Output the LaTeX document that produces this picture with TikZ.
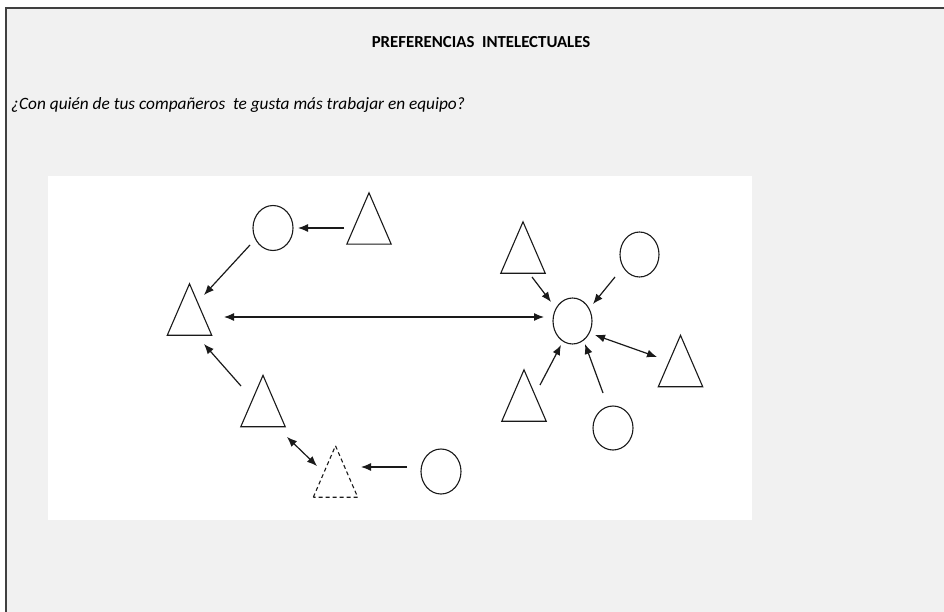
\documentclass[tikz,border=0pt]{standalone}
\usepackage{fontspec}
\setmainfont{Carlito}
\usetikzlibrary{arrows.meta,shapes.geometric,calc}
\definecolor{pagegray}{HTML}{F1F1F1}
\definecolor{framegray}{HTML}{404040}
\definecolor{inkgray}{HTML}{1A1A1A}
\tikzset{
  circ/.style={ellipse,draw=inkgray,line width=1.1pt,inner sep=0pt,minimum width=40pt,minimum height=45pt},
  tribox/.style={inner sep=0pt,minimum width=44pt,minimum height=51pt},
  triline/.style={draw=inkgray,line width=1.1pt,line join=miter},
  arr/.style={draw=inkgray,line width=1.2pt,-{Latex[length=10pt,width=8pt]}},
  darr/.style={draw=inkgray,line width=1.2pt,{Latex[length=10pt,width=8pt]}-{Latex[length=10pt,width=8pt]}},
}
\begin{document}
\begin{tikzpicture}[x=1pt,y=-1pt]
\useasboundingbox (0,0) rectangle (944,612);
\fill[white] (0,0) rectangle (944,612);
\fill[pagegray] (6,8) rectangle (944,612);
\draw[framegray,line width=1.5pt] (944,8) -- (6,8) -- (6,612);
\fill[white] (48,176) rectangle (752,520);
\node[anchor=base,font=\fontsize{16.8}{18}\selectfont\bfseries,inner sep=0pt] (title) at (481,48) {PREFERENCIAS~ INTELECTUALES};
\node[anchor=base west,font=\fontsize{17.3}{19}\selectfont\itshape,inner sep=0pt] (question) at (11,110) {¿Con quién de tus compañeros~ te gusta más trabajar en equipo?};
% circles
\node[circ] (c1) at (273,228) {};
\node[circ] (c2) at (441,471.5) {};
\node[circ,minimum height=46pt,minimum width=39pt] (c0) at (572.5,321) {};
\node[circ,minimum width=39pt] (c3) at (639.5,254.5) {};
\node[circ,minimum height=44pt] (c4) at (613,428) {};
% triangles
\node[tribox] (t1) at (369,218.5) {};
\node[tribox] (t2) at (189.5,309.5) {};
\node[tribox] (t3) at (263,401) {};
\node[tribox] (t4) at (335.5,471.5) {};
\node[tribox] (t5) at (523,247.5) {};
\node[tribox] (t6) at (680.5,361) {};
\node[tribox] (t7) at (524,395.5) {};
\foreach \t in {t1,t2,t3,t5,t6,t7}
  \draw[triline] (\t.south west) -- (\t.north) -- (\t.south east) -- cycle;
\draw[triline,dash pattern=on 4pt off 3pt] (t4.south west) -- (t4.north) -- (t4.south east) -- cycle;
% connectors
\draw[arr] ($(t1)+(-25,9.5)$) -- ($(c1)+(25,0)$);
\draw[arr] ($(c1)+(-23,17)$) -- ($(t2)+(14.5,-14.5)$);
\draw[darr] ($(t2)+(34.5,7.5)$) -- ($(c0)+(-28.5,-4)$);
\draw[arr] ($(t3)+(-22,-15)$) -- ($(t2)+(14.5,34.5)$);
\draw[darr] ($(t3)+(24,36)$) -- ($(t4)+(-18.5,-5.5)$);
\draw[arr] ($(c2)+(-34,-4.5)$) -- ($(t4)+(25.5,-4.5)$);
\draw[arr] ($(t5)+(9,29.5)$) -- ($(c0)+(-21.5,-19)$);
\draw[arr] ($(c3)+(-24.5,22.5)$) -- ($(c0)+(20.5,-17)$);
\draw[darr] ($(c0)+(22.5,14)$) -- ($(t6)+(-23.5,-4)$);
\draw[arr] ($(t7)+(16,-10.5)$) -- ($(c0)+(-11.5,24)$);
\draw[arr] ($(c4)+(-10,-35)$) -- ($(c0)+(12.5,23)$);
\end{tikzpicture}
\end{document}
